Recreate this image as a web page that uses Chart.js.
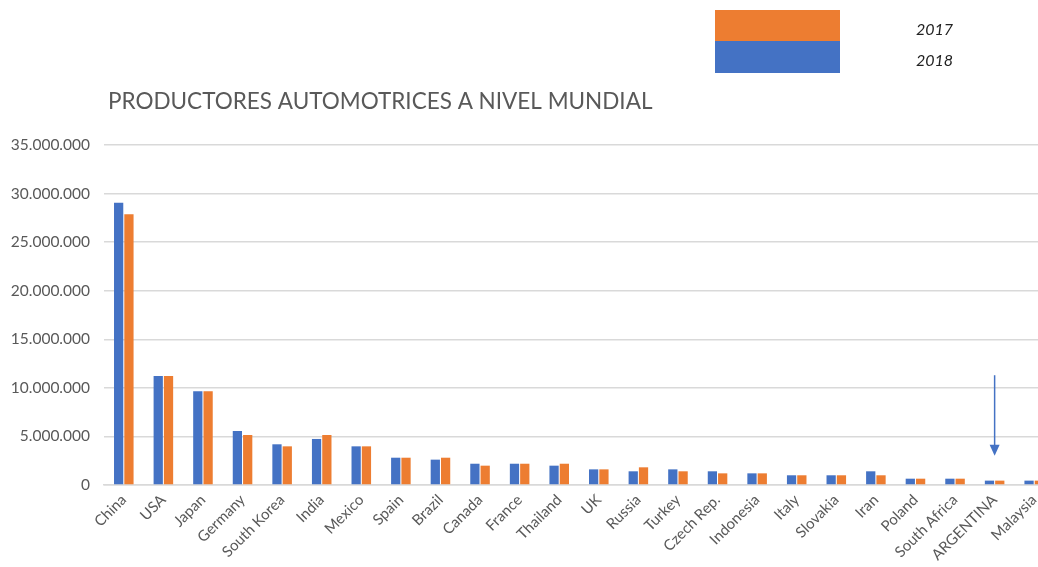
<!DOCTYPE html>
<html>
<head>
<meta charset="utf-8">
<script src="https://cdn.jsdelivr.net/npm/chart.js@4/dist/chart.umd.min.js"></script>
<style>
  html, body { margin: 0; padding: 0; background: #fff; overflow: hidden; }
  #wrap { width: 1060px; height: 567px; }
</style>
</head>
<body>
<div id="wrap"><canvas id="chart" width="1060" height="567"></canvas></div>
<script>
// productores automotrices
const categories = ['China', 'USA', 'Japan', 'Germany', 'South Korea', 'India', 'Mexico', 'Spain', 'Brazil', 'Canada',
    'France', 'Thailand', 'UK', 'Russia', 'Turkey', 'Czech Rep.', 'Indonesia', 'Italy', 'Slovakia', 'Iran',
    'Poland', 'South Africa', 'ARGENTINA', 'Malaysia'];
const values2018 = [29060000, 11220000, 9640000, 5560000, 4190000, 4740000, 3980000, 2810000, 2610000, 2190000,
    2190000, 1990000, 1610000, 1410000, 1610000, 1410000, 1200000, 1000000, 1000000, 1410000,
    650000, 650000, 450000, 450000];
const values2017 = [27870000, 11220000, 9640000, 5150000, 3980000, 5150000, 3980000, 2810000, 2810000, 1990000,
    2190000, 2190000, 1610000, 1820000, 1410000, 1200000, 1200000, 1000000, 1000000, 1000000,
    650000, 650000, 450000, 450000];
const yTicks = [0, 5000000, 10000000, 15000000, 20000000, 25000000, 30000000, 35000000];
const titleText = 'PRODUCTORES AUTOMOTRICES A NIVEL MUNDIAL';
// flecha que senala a Argentina
const arrowTarget = 'ARGENTINA';
const arrowFrom = 11300000;
const arrowTo = 3000000;

const BLUE = '#4472C4';
const ORANGE = '#ED7D31';
const GRAY = '#595959';

function fmt(v) {
    return String(v).replace(/\B(?=(\d{3})+(?!\d))/g, '.');
}

const extras = {
    id: 'extras',
    afterDraw(chart) {
        const ctx = chart.ctx;
        ctx.save();
        // titulo
        ctx.fillStyle = GRAY;
        ctx.font = '22.5px Lato';
        ctx.textBaseline = 'middle';
        ctx.textAlign = 'left';
        ctx.fillText(titleText, 108, 102);
        // leyenda (naranja arriba, azul abajo)
        const ds = chart.data.datasets;
        ctx.fillStyle = ds[1].backgroundColor;
        ctx.fillRect(715, 10, 125, 31);
        ctx.fillStyle = ds[0].backgroundColor;
        ctx.fillRect(715, 41, 125, 32);
        ctx.fillStyle = '#222';
        ctx.font = 'italic 16px Lato';
        ctx.fillText(ds[1].label, 916, 30);
        ctx.fillText(ds[0].label, 916, 61);
        // flecha
        const x = chart.scales.x.getPixelForValue(categories.indexOf(arrowTarget));
        const y1 = chart.scales.y.getPixelForValue(arrowFrom);
        const y2 = chart.scales.y.getPixelForValue(arrowTo);
        ctx.strokeStyle = BLUE;
        ctx.fillStyle = BLUE;
        ctx.lineWidth = 1.5;
        ctx.beginPath();
        ctx.moveTo(x, y1);
        ctx.lineTo(x, y2 - 8);
        ctx.stroke();
        ctx.beginPath();
        ctx.moveTo(x - 5, y2 - 11);
        ctx.lineTo(x + 5, y2 - 11);
        ctx.lineTo(x, y2);
        ctx.closePath();
        ctx.fill();
        ctx.restore();
    }
};

new Chart(document.getElementById('chart'), {
    type: 'bar',
    data: {
        labels: categories,
        datasets: [
            { label: '2018', data: values2018, backgroundColor: BLUE },
            { label: '2017', data: values2017, backgroundColor: ORANGE }
        ]
    },
    options: {
        responsive: false,
        animation: false,
        layout: { padding: { top: 145, right: 6, left: 0, bottom: 0 } },
        plugins: {
            legend: { display: false },
            tooltip: { enabled: false }
        },
        datasets: { bar: { barPercentage: 0.9, categoryPercentage: 0.52 } },
        scales: {
            x: {
                grid: { display: false, drawTicks: false },
                border: { display: true, color: '#d9d9d9', width: 1.5 },
                ticks: {
                    color: GRAY, font: { family: 'Lato', size: 15 },
                    maxRotation: 45, minRotation: 45, autoSkip: false, padding: 6
                },
                afterFit(s) { s.height = 82; }
            },
            y: {
                min: 0, max: 35000000,
                grid: { color: '#d9d9d9', lineWidth: 1.5, drawTicks: false },
                border: { display: false },
                afterBuildTicks(s) { s.ticks = yTicks.map(v => ({ value: v })); },
                ticks: {
                    color: GRAY, font: { family: 'Lato', size: 15.5 }, padding: 14,
                    callback: v => fmt(v)
                },
                afterFit(s) { s.width = 104; }
            }
        }
    },
    plugins: [extras]
});
</script>
</body>
</html>
